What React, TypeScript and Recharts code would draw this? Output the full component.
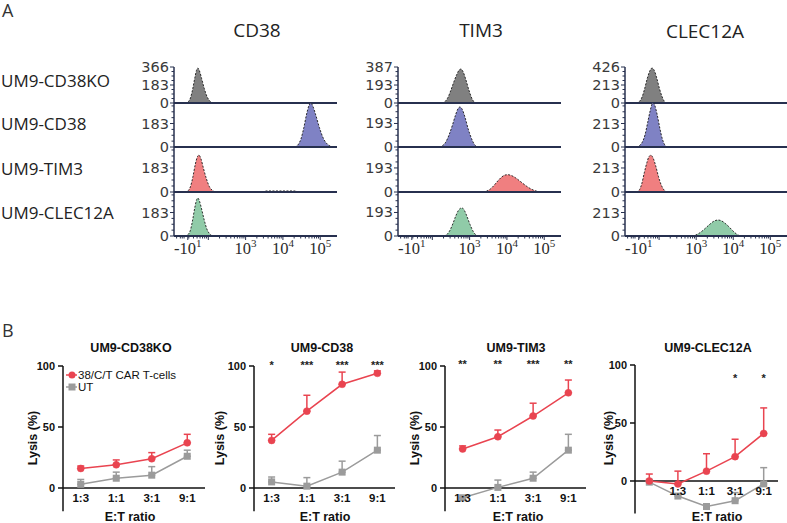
import React from 'react';
import {
  AreaChart,
  Area,
  XAxis,
  YAxis,
  ReferenceLine,
  ComposedChart,
  Line,
  ErrorBar,
  LabelList,
  Legend,
} from 'recharts';

// ================= Panel A: flow histograms =================
const markerNames = ['CD38', 'TIM3', 'CLEC12A'];
const cellLineNames = ['UM9-CD38KO', 'UM9-CD38', 'UM9-TIM3', 'UM9-CLEC12A'];
const histColors = ['#808080', '#7f82c4', '#f07f80', '#90cba8'];
const yMidTicks = [183, 193, 213];
const yTopTicks = [366, 387, 426];
const yRowMax = [343, 361, 399];
const xTickPos = [1.45, 3, 4, 5];
const xTickBase = ['-10', '10', '10', '10'];
const xTickExp = ['1', '3', '4', '5'];
const xDomain = [1.08, 5.45];

// [transformed fluorescence, count]
const cd38_CD38KO = [[1.37, 0], [1.45, 10], [1.52, 50], [1.58, 140], [1.64, 260], [1.69, 340], [1.72, 355], [1.76, 330], [1.82, 250], [1.89, 150], [1.96, 70], [2.04, 20], [2.125, 0]];
const cd38_CD38 = [[4.32, 0], [4.4, 15], [4.48, 60], [4.56, 150], [4.63, 250], [4.7, 325], [4.75, 343], [4.8, 320], [4.88, 250], [4.98, 150], [5.08, 70], [5.2, 20], [5.35, 0]];
const cd38_TIM3 = [[1.37, 0], [1.45, 8], [1.52, 40], [1.59, 120], [1.65, 210], [1.71, 270], [1.75, 281], [1.8, 255], [1.87, 180], [1.95, 100], [2.03, 40], [2.12, 10], [2.21, 0], [3.45, 0], [3.55, 8], [4.3, 8], [4.42, 0]];
const cd38_CLEC12A = [[1.37, 0], [1.45, 10], [1.52, 45], [1.58, 125], [1.64, 225], [1.69, 285], [1.72, 296], [1.76, 275], [1.82, 210], [1.89, 125], [1.96, 55], [2.04, 15], [2.125, 0]];

const tim3_CD38KO = [[2.26, 0], [2.34, 15], [2.42, 60], [2.5, 140], [2.58, 230], [2.66, 310], [2.72, 355], [2.77, 365], [2.82, 340], [2.9, 250], [2.98, 140], [3.06, 50], [3.14, 0]];
const tim3_CD38 = [[2.18, 0], [2.27, 10], [2.36, 40], [2.45, 100], [2.54, 180], [2.62, 260], [2.69, 315], [2.74, 328], [2.8, 310], [2.88, 240], [2.96, 150], [3.05, 70], [3.13, 20], [3.22, 0]];
const tim3_TIM3 = [[3.36, 0], [3.46, 8], [3.56, 25], [3.66, 55], [3.76, 90], [3.86, 120], [3.95, 136], [4.03, 139], [4.12, 132], [4.24, 112], [4.38, 80], [4.52, 48], [4.66, 22], [4.78, 8], [4.89, 0]];
const tim3_CLEC12A = [[2.31, 0], [2.39, 12], [2.47, 45], [2.55, 100], [2.63, 165], [2.7, 210], [2.76, 228], [2.8, 230], [2.86, 210], [2.93, 160], [3.01, 95], [3.1, 35], [3.2, 0]];

const clec_CD38KO = [[1.38, 0], [1.46, 15], [1.54, 70], [1.61, 170], [1.68, 290], [1.75, 380], [1.81, 414], [1.87, 385], [1.94, 290], [2.01, 170], [2.08, 75], [2.14, 20], [2.19, 0]];
const clec_CD38 = [[1.38, 0], [1.46, 10], [1.54, 40], [1.62, 110], [1.69, 220], [1.76, 330], [1.81, 390], [1.84, 399], [1.88, 380], [1.95, 290], [2.02, 170], [2.09, 70], [2.15, 20], [2.21, 0]];
const clec_TIM3 = [[1.38, 0], [1.46, 15], [1.53, 70], [1.6, 170], [1.67, 260], [1.73, 315], [1.78, 326], [1.84, 300], [1.91, 230], [1.98, 140], [2.06, 60], [2.14, 15], [2.21, 0]];
const clec_CLEC12A = [[2.89, 0], [2.98, 8], [3.08, 25], [3.18, 50], [3.28, 80], [3.38, 110], [3.48, 135], [3.59, 145], [3.68, 138], [3.78, 115], [3.88, 85], [3.98, 50], [4.08, 20], [4.18, 0]];

const histograms = [
  [cd38_CD38KO, cd38_CD38, cd38_TIM3, cd38_CLEC12A],
  [tim3_CD38KO, tim3_CD38, tim3_TIM3, tim3_CLEC12A],
  [clec_CD38KO, clec_CD38, clec_TIM3, clec_CLEC12A],
];

// layout (panel A)
const colAxisX = [174, 398, 625];
const colRight = [337, 561, 787];
const rowTops = [67, 103, 147, 192];
const rowBottoms = [103, 147, 192, 236];
const navy = '#27304f';

const xMinor: number[] = [1.15, 1.25, 1.35];
for (let d = 1; d <= 4; d++) for (let k = 2; k <= 9; k++) xMinor.push(d + Math.log10(k));
const xAllTicks = Array.from(new Set([...xMinor, 2, ...xTickPos]))
  .filter((v) => v >= xDomain[0] && v <= xDomain[1])
  .sort((a, b) => a - b);

function HistogramRow({ col, row }: { col: number; row: number }) {
  const axisX = colAxisX[col];
  const plotW = colRight[col] - axisX;
  const top = rowTops[row];
  const h = rowBottoms[row] - top;
  const isLast = row === 3;
  const mt = 8;
  const yw = 50;
  const xh = isLast ? 28 : 0;
  const mb = isLast ? 0 : 8;
  const mid = yMidTicks[col];
  const yMax = row === 0 ? yTopTicks[col] : yRowMax[col];
  const majors = row === 0 ? [0, mid, yTopTicks[col]] : [0, mid];
  const step = mid / 4;
  const tickSet: number[] = [...majors];
  for (let i = 1; i * step < yMax - 2; i++) tickSet.push(Math.round(i * step * 100) / 100);
  const yTicks = Array.from(new Set(tickSet)).sort((a, b) => a - b);
  const data = histograms[col][row].map(([t, v]) => ({ t, v }));
  const plotBottom = mt + h;

  const yTick = (p: any) => {
    const v = p.payload.value;
    const isMajor = majors.includes(v);
    return (
      <g>
        <line x1={yw - (isMajor ? 4 : 2.5)} x2={yw} y1={p.y} y2={p.y} stroke={navy} strokeWidth={1} />
        {isMajor && (
          <text x={yw - 5} y={p.y + 5} textAnchor="end" fontSize={14.5} fontFamily="DejaVu Sans" fill="#3a3a3a">
            {v}
          </text>
        )}
      </g>
    );
  };

  const xTick = (p: any) => {
    const v = p.payload.value;
    const idx = xTickPos.indexOf(v);
    return (
      <g>
        <line x1={p.x} x2={p.x} y1={plotBottom} y2={plotBottom + (idx >= 0 || v === 2 ? 4 : 2.5)} stroke={navy} strokeWidth={1} />
        {idx >= 0 && (
          <text x={p.x} y={plotBottom + 18} textAnchor="middle" fontFamily="Liberation Serif" fontSize={16.5} fill="#2b2b2b">
            {xTickBase[idx]}
            <tspan dy={-7} fontSize={11}>
              {xTickExp[idx]}
            </tspan>
          </text>
        )}
      </g>
    );
  };

  return (
    <div style={{ position: 'absolute', left: axisX - yw, top: top - mt }}>
      <AreaChart
        width={yw + plotW}
        height={mt + h + xh + mb}
        data={data}
        margin={{ top: mt, right: 0, bottom: mb, left: 0 }}
      >
        <XAxis
          type="number"
          dataKey="t"
          domain={xDomain}
          allowDataOverflow
          hide={!isLast}
          height={xh}
          ticks={xAllTicks}
          interval={0}
          tick={xTick}
          tickLine={false}
          axisLine={{ stroke: navy, strokeWidth: 2 }}
        />
        <YAxis
          type="number"
          domain={[0, yMax]}
          allowDataOverflow
          width={yw}
          ticks={yTicks}
          interval={0}
          tick={yTick}
          tickLine={false}
          axisLine={{ stroke: navy, strokeWidth: 1.5 }}
        />
        <Area
          type="monotone"
          dataKey="v"
          baseValue={0}
          fill={histColors[row]}
          fillOpacity={1}
          stroke="#1a1a1a"
          strokeWidth={0.9}
          strokeDasharray="2 1.5"
          dot={false}
          activeDot={false}
          isAnimationActive={false}
        />
        {!isLast && <ReferenceLine y={0} stroke={navy} strokeWidth={2} />}
      </AreaChart>
    </div>
  );
}

// ================= Panel B: lysis curves =================
const ratioLabels = ['1:3', '1:1', '3:1', '9:1'];
const clecRatioLabels = ['', '1:3', '1:1', '3:1', '9:1'];
const panelTitles = ['UM9-CD38KO', 'UM9-CD38', 'UM9-TIM3', 'UM9-CLEC12A'];
const seriesNames = ['38/C/T CAR T-cells', 'UT'];

const koCar = [16, 19, 24, 37];
const koCarErr = [2, 4, 5, 7];
const koUt = [3, 8, 10.5, 26];
const koUtErr = [4, 5, 7, 5];
const koStars = ['', '', '', ''];

const cd38Car = [39, 63, 85, 94];
const cd38CarErr = [5, 13, 10, 2];
const cd38Ut = [5, 1.5, 13, 31];
const cd38UtErr = [4, 7, 9, 12];
const cd38Stars = ['*', '***', '***', '***'];

const tim3Car = [32, 42, 59, 78];
const tim3CarErr = [2.5, 5.5, 10.5, 10.5];
const tim3Ut = [-8, 0.5, 8, 31];
const tim3UtErr = [0, 6, 5, 13];
const tim3Stars = ['**', '**', '***', '**'];

const clecCar = [0, -2.5, 8.5, 21, 41];
const clecCarErr = [6, 11, 15, 15, 22];
const clecUt = [-1, -13, -22, -17, -2.5];
const clecUtErr = [1, 2, 1, 7, 14];
const clecStars = ['', '', '', '*', '*'];

const red = '#e94450';
const gray = '#9b9b9b';

const lysisPanels = [
  { cats: ratioLabels, car: koCar, carErr: koCarErr, ut: koUt, utErr: koUtErr, stars: koStars, plotLeft: 63, plotW: 142, plotTop: 366, yMin: -19, ppu: 1.22, starY: 369, legend: true },
  { cats: ratioLabels, car: cd38Car, carErr: cd38CarErr, ut: cd38Ut, utErr: cd38UtErr, stars: cd38Stars, plotLeft: 254, plotW: 141, plotTop: 366, yMin: -19, ppu: 1.22, starY: 369, legend: false },
  { cats: ratioLabels, car: tim3Car, carErr: tim3CarErr, ut: tim3Ut, utErr: tim3UtErr, stars: tim3Stars, plotLeft: 445, plotW: 141, plotTop: 366, yMin: -19, ppu: 1.22, starY: 368, legend: false },
  { cats: clecRatioLabels, car: clecCar, carErr: clecCarErr, ut: clecUt, utErr: clecUtErr, stars: clecStars, plotLeft: 635, plotW: 143, plotTop: 365, yMin: -28, ppu: 1.16, starY: 382, legend: false },
];

const boldFont = 'Liberation Sans, Arial, sans-serif';

function LegendBox() {
  const rowStyle: React.CSSProperties = { display: 'flex', alignItems: 'center', height: 12, whiteSpace: 'nowrap' };
  return (
    <div style={{ fontFamily: boldFont, fontSize: 11.5, color: '#111', lineHeight: '12px' }}>
      <div style={rowStyle}>
        <svg width={14} height={12} style={{ display: 'block' }}>
          <line x1={2} x2={13} y1={6} y2={6} stroke={red} strokeWidth={1.5} />
          <circle cx={8} cy={6} r={3.5} fill={red} />
        </svg>
        <span>{seriesNames[0]}</span>
      </div>
      <div style={rowStyle}>
        <svg width={14} height={12} style={{ display: 'block' }}>
          <line x1={2} x2={13} y1={6} y2={6} stroke={gray} strokeWidth={1.5} />
          <rect x={4.5} y={2.5} width={7} height={7} fill={gray} />
        </svg>
        <span>{seriesNames[1]}</span>
      </div>
    </div>
  );
}

function LysisPanel({ cfg }: { cfg: any }) {
  const { cats, car, carErr, ut, utErr, stars, plotLeft, plotW, plotTop, yMin, ppu, starY, legend } = cfg;
  const H = (100 - yMin) * ppu;
  const mt = 14;
  const yw = 44;
  const mr = 6;
  const xh = 1;
  const n = cats.length;
  const data = cats.map((c: string, i: number) => ({
    i,
    cat: c,
    car: car[i],
    carErr: [0, carErr[i]],
    ut: ut[i],
    utErr: [0, utErr[i]],
    star: stars[i],
  }));
  const y0 = mt + 100 * ppu;
  const chartTop = plotTop - mt;
  const ticksX = cats.map((_: string, i: number) => i);

  const catTick = (p: any) => (
    <text x={p.x} y={y0 + 14} textAnchor="middle" fontFamily={boldFont} fontWeight={700} fontSize={11.5} fill="#111">
      {cats[p.payload.value]}
    </text>
  );

  const starContent = (p: any) =>
    p.value ? (
      <text x={p.x} y={starY - chartTop} textAnchor="middle" fontFamily={boldFont} fontWeight={700} fontSize={11} fill="#222">
        {p.value}
      </text>
    ) : null;

  const squareDot = (p: any) =>
    p.cx == null || p.cy == null ? null : (
      <rect key={`sq-${p.index}`} x={p.cx - 3.5} y={p.cy - 3.5} width={7} height={7} fill={gray} />
    );

  return (
    <div style={{ position: 'absolute', left: plotLeft - yw, top: chartTop }}>
      <ComposedChart
        width={yw + plotW + mr}
        height={mt + H + xh}
        data={data}
        margin={{ top: mt, right: mr, bottom: 0, left: 0 }}
      >
        <XAxis
          type="number"
          dataKey="i"
          domain={[-0.5, n - 0.5]}
          ticks={ticksX}
          interval={0}
          height={xh}
          axisLine={false}
          tickLine={false}
          tick={catTick}
        />
        <YAxis
          type="number"
          domain={[yMin, 100]}
          allowDataOverflow
          ticks={[0, 50, 100]}
          interval={0}
          width={yw}
          tickSize={5}
          tickMargin={3}
          axisLine={{ stroke: '#111', strokeWidth: 1.5 }}
          tickLine={{ stroke: '#111', strokeWidth: 1.5 }}
          tick={{ fontSize: 11, fontWeight: 700, fill: '#111', fontFamily: boldFont }}
        />
        <ReferenceLine y={0} stroke="#111" strokeWidth={1.5} />
        <Line
          dataKey="ut"
          stroke={gray}
          strokeWidth={1.5}
          dot={squareDot}
          activeDot={false}
          isAnimationActive={false}
        >
          <ErrorBar dataKey="utErr" direction="y" width={3.5} stroke={gray} strokeWidth={1.5} />
        </Line>
        <Line
          dataKey="car"
          stroke={red}
          strokeWidth={1.5}
          dot={{ r: 3.5, fill: red, stroke: red, strokeWidth: 0.5 }}
          activeDot={false}
          isAnimationActive={false}
        >
          <ErrorBar dataKey="carErr" direction="y" width={3.5} stroke={red} strokeWidth={1.5} />
          <LabelList dataKey="star" content={starContent} />
        </Line>
        {legend && (
          <Legend
            layout="horizontal"
            verticalAlign="middle"
            align="center"
            wrapperStyle={{ left: 45, top: 17, width: 150, height: 25 }}
            content={() => <LegendBox />}
          />
        )}
      </ComposedChart>
    </div>
  );
}

// ================= Static text =================
const sansTop = 'Open Sans, sans-serif';
const colTitleX = [257, 481, 705];
const colTitleY = [37, 37, 38];
const rowLabelY = [87, 130, 175, 219];
const bTitleX = [131, 322, 516, 708];
const lysisLabelX = [33, 220, 415, 609];
const etLabelX = [130, 325, 518, 717];

export default function App() {
  return (
    <div
      style={{
        position: 'absolute',
        left: 0,
        top: 0,
        width: 787,
        height: 523,
        background: '#ffffff',
        overflow: 'hidden',
      }}
    >
      <svg width={787} height={523} style={{ position: 'absolute', left: 0, top: 0 }}>
        <text x={2} y={17} fontFamily={sansTop} fontSize={18} fill="#333">
          A
        </text>
        <text x={2} y={337} fontFamily={sansTop} fontSize={18} fill="#333">
          B
        </text>
        {markerNames.map((m, i) => (
          <text key={m} x={colTitleX[i]} y={colTitleY[i]} textAnchor="middle" fontFamily={sansTop} fontSize={19} fill="#222">
            {m}
          </text>
        ))}
        {cellLineNames.map((c, i) => (
          <text key={c} x={1} y={rowLabelY[i]} fontFamily={sansTop} fontSize={17} fill="#222">
            {c}
          </text>
        ))}
        {panelTitles.map((t, i) => (
          <text key={t} x={bTitleX[i]} y={352} textAnchor="middle" fontFamily={boldFont} fontWeight={700} fontSize={12.5} fill="#111">
            {t}
          </text>
        ))}
        {lysisLabelX.map((x, i) => (
          <text
            key={`ly${i}`}
            x={x}
            y={438}
            transform={`rotate(-90 ${x} 438)`}
            textAnchor="middle"
            dominantBaseline="central"
            fontFamily={boldFont}
            fontWeight={700}
            fontSize={12.5}
            fill="#111"
          >
            Lysis (%)
          </text>
        ))}
        {etLabelX.map((x, i) => (
          <text key={`et${i}`} x={x} y={520.5} textAnchor="middle" fontFamily={boldFont} fontWeight={700} fontSize={12.5} fill="#111">
            E:T ratio
          </text>
        ))}
      </svg>
      {[0, 1, 2].map((c) => [0, 1, 2, 3].map((r) => <HistogramRow key={`h${c}-${r}`} col={c} row={r} />))}
      {lysisPanels.map((cfg, i) => (
        <LysisPanel key={`lp${i}`} cfg={cfg} />
      ))}
    </div>
  );
}
